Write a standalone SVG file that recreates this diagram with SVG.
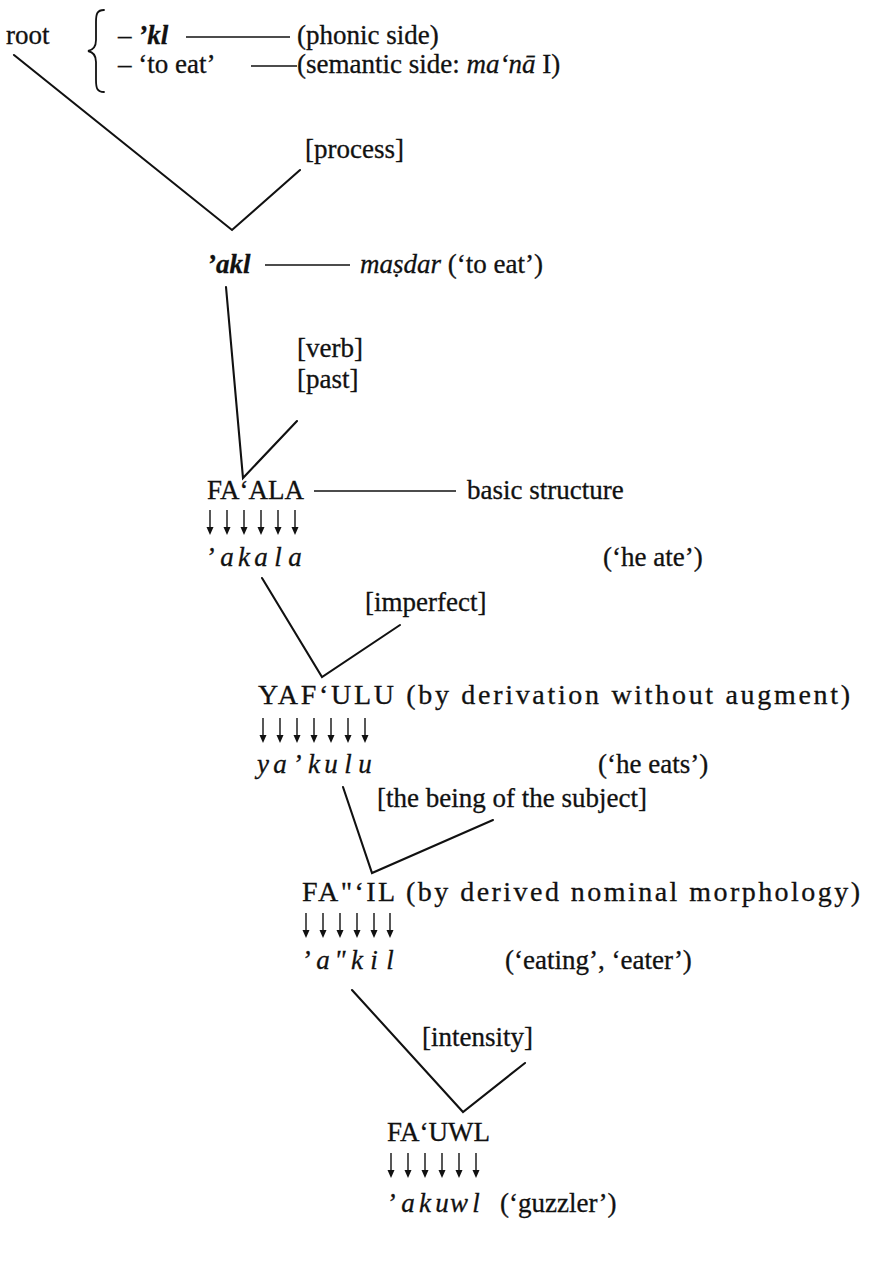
<svg xmlns="http://www.w3.org/2000/svg" width="872" height="1280" viewBox="0 0 872 1280">
  <style>
    text { font-family: "Liberation Serif", "Times New Roman", serif; font-size: 27px; fill: #111; stroke: #111; stroke-width: 0.3; }
    .it { font-style: italic; }
    .bi { font-style: italic; font-weight: bold; }
    text.tr { text-anchor: middle; font-style: italic; }
    text.wide { font-size: 28px; }
    .edge { fill: none; stroke: #111; stroke-width: 2.1; stroke-linecap: round; stroke-linejoin: miter; }
    .rule { fill: none; stroke: #111; stroke-width: 1.5; }
    .arr { fill: none; stroke: #111; stroke-width: 1.4; }
    .head { fill: #111; }
  </style>
  <defs>
    <!-- small downward arrow used in the letter-mapping rows -->
    <g id="down">
      <line class="arr" x1="0" y1="0" x2="0" y2="20"/>
      <path class="head" d="M-3.5,17 L0,25 L3.5,17 Z"/>
    </g>
  </defs>

  <rect width="872" height="1280" fill="#fff"/>

  <!-- connectors: tree branches and horizontal rules -->
  <g id="connectors">
    <path class="edge" d="M14,55 L232,230 L300,170"/>
    <path class="edge" d="M226,287 L243,478 L297,421"/>
    <path class="edge" d="M262,578 L322,677 L400,625"/>
    <path class="edge" d="M343,787 L372,873 L493,820"/>
    <path class="edge" d="M352,990 L463,1112 L525,1063"/>
    <line class="rule" x1="186" y1="37" x2="290" y2="37"/>
    <line class="rule" x1="251" y1="66" x2="297" y2="66"/>
    <line class="rule" x1="265" y1="265" x2="350" y2="265"/>
    <line class="rule" x1="314" y1="491" x2="456" y2="491"/>
  </g>

  <g id="root">
    <text x="6" y="44">root</text>
    <path class="edge" style="stroke-width:1.8" d="M104,10 C97,10 96,14 96,22 L96,40 C96,46 93,50 88,51 C93,52 96,56 96,62 L96,80 C96,88 97,92 104,92"/>
    <text x="118" y="44">– <tspan class="bi">’kl</tspan></text>
    <text x="118" y="73">– ‘to eat’</text>
    <text x="297" y="44">(phonic side)</text>
    <text x="297" y="73">(semantic side: <tspan class="it">ma‘nā</tspan> I)</text>
  </g>

  <g id="process">
    <text x="305" y="158">[process]</text>
  </g>

  <g id="akl">
    <text x="207" y="273" class="bi">’akl</text>
    <text x="360" y="273"><tspan class="it">maṣdar</tspan> (‘to eat’)</text>
  </g>

  <g id="verb-past">
    <text x="297" y="357">[verb]</text>
    <text x="297" y="388">[past]</text>
  </g>

  <g id="faala">
    <text x="207" y="499">FA‘ALA</text>
    <text x="467" y="499">basic structure</text>
    <use href="#down" x="210" y="510"/>
    <use href="#down" x="227" y="510"/>
    <use href="#down" x="244" y="510"/>
    <use href="#down" x="261" y="510"/>
    <use href="#down" x="278" y="510"/>
    <use href="#down" x="295" y="510"/>
    <text class="tr" x="210 227 244 261 278 295" y="566">’akala</text>
    <text x="603" y="566">(‘he ate’)</text>
  </g>

  <g id="imperfect">
    <text x="365" y="611">[imperfect]</text>
  </g>

  <g id="yafulu">
    <text class="wide" x="258" y="704" textLength="592" lengthAdjust="spacing">YAF‘ULU (by derivation without augment)</text>
    <use href="#down" x="263" y="718"/>
    <use href="#down" x="280" y="718"/>
    <use href="#down" x="297" y="718"/>
    <use href="#down" x="314" y="718"/>
    <use href="#down" x="331" y="718"/>
    <use href="#down" x="348" y="718"/>
    <use href="#down" x="365" y="718"/>
    <text class="tr" x="263 280 297 314 331 348 365" y="773">ya’kulu</text>
    <text x="598" y="773">(‘he eats’)</text>
  </g>

  <g id="subject">
    <text x="377" y="807">[the being of the subject]</text>
  </g>

  <g id="fail">
    <text class="wide" x="302" y="901" textLength="558" lengthAdjust="spacing">FA"‘IL (by derived nominal morphology)</text>
    <use href="#down" x="306" y="913"/>
    <use href="#down" x="323" y="913"/>
    <use href="#down" x="340" y="913"/>
    <use href="#down" x="357" y="913"/>
    <use href="#down" x="374" y="913"/>
    <use href="#down" x="390" y="913"/>
    <text class="tr" x="306 323 340 357 374 390" y="969">’a"kil</text>
    <text x="505" y="969">(‘eating’, ‘eater’)</text>
  </g>

  <g id="intensity">
    <text x="422" y="1046">[intensity]</text>
  </g>

  <g id="fauwl">
    <text x="387" y="1141">FA‘UWL</text>
    <use href="#down" x="391" y="1153"/>
    <use href="#down" x="408" y="1153"/>
    <use href="#down" x="425" y="1153"/>
    <use href="#down" x="442" y="1153"/>
    <use href="#down" x="459" y="1153"/>
    <use href="#down" x="476" y="1153"/>
    <text class="tr" x="391 408 425 442 459 476" y="1212">’akuwl</text>
    <text x="500" y="1212">(‘guzzler’)</text>
  </g>
</svg>
